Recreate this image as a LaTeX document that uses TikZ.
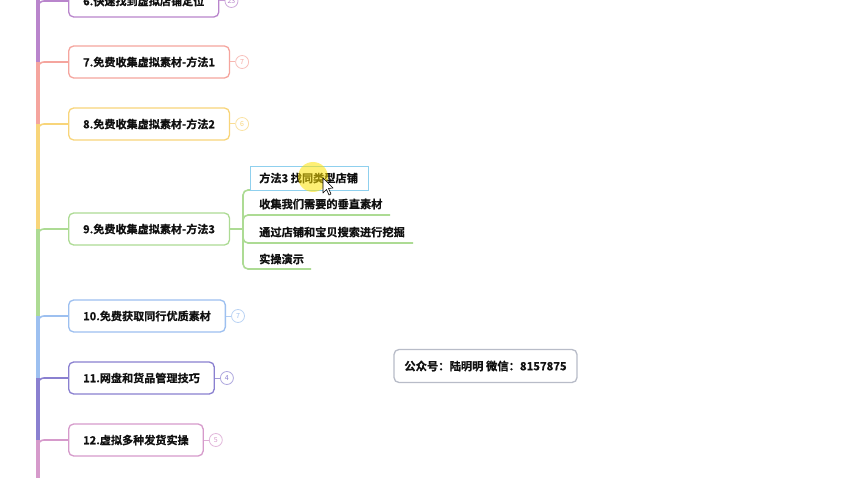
\documentclass[tikz,border=0pt]{standalone}
\usepackage{fontspec}
\usetikzlibrary{calc}
\setmainfont{Noto Sans CJK SC Bold}
\newfontfamily\cjkb[FakeBold=0.5]{Noto Sans CJK SC Bold}
\newfontfamily\cjkr{Noto Sans CJK SC}
\definecolor{cPurple}{HTML}{B985CC}
\definecolor{cSalmon}{HTML}{F5A59E}
\definecolor{cYellow}{HTML}{F8D57A}
\definecolor{cGreen}{HTML}{ADDB94}
\definecolor{cBlue}{HTML}{9DC0F0}
\definecolor{cIndigo}{HTML}{8A80D0}
\definecolor{cPink}{HTML}{D69ACB}
\definecolor{cSky}{HTML}{8FD0EE}
\definecolor{cGray}{HTML}{B8BCC8}
\definecolor{cText}{HTML}{111111}
\tikzset{
  topic/.style={draw=#1, line width=1.3pt, rounded corners=5pt, fill=white,
    anchor=west, minimum height=32pt, inner xsep=14.5pt, inner ysep=0pt,
    font=\cjkb\fontsize{11.1}{13}\selectfont, text=cText},
  trunk/.style={draw=#1, line width=4pt},
  branch/.style={draw=#1, line width=1.6pt, rounded corners=6pt},
  badge/.style={draw=#1!70, line width=0.8pt, circle, minimum size=13pt, inner sep=0pt,
    text=#1, font=\cjkr\fontsize{7}{8}\selectfont, fill=white},
  blink/.style={draw=#1!80, line width=1pt},
  subtxt/.style={anchor=west, inner sep=0pt, font=\cjkb\fontsize{11.2}{13}\selectfont, text=cText},
  subline/.style={draw=cGreen, line width=1.6pt, rounded corners=5pt},
}
\begin{document}
\begin{tikzpicture}[x=1pt, y=-1pt]
\useasboundingbox[fill=white] (0,0) rectangle (850,478);

% trunk segments
\coordinate (t0) at (38,-20);
\coordinate (t6) at (38,1);
\coordinate (t7) at (38,62);
\coordinate (t8) at (38,124);
\coordinate (t9) at (38,229);
\coordinate (t10) at (38,316);
\coordinate (t11) at (38,378);
\coordinate (t12) at (38,440);
\coordinate (tend) at (38,490);
\draw[trunk=cPurple] (t0) -- (t7);
\draw[trunk=cSalmon] (t7) -- (t8);
\draw[trunk=cYellow] (t8) -- (t9);
\draw[trunk=cGreen] (t9) -- (t10);
\draw[trunk=cBlue] (t10) -- (t11);
\draw[trunk=cIndigo] (t11) -- (t12);
\draw[trunk=cPink] (t12) -- (tend);

% topics
\node[topic=cPurple] (b6) at (68,1) {6.快速找到虚拟店铺定位};
\node[topic=cSalmon] (b7) at (68,62) {7.免费收集虚拟素材-方法1};
\node[topic=cYellow] (b8) at (68,124) {8.免费收集虚拟素材-方法2};
\node[topic=cGreen] (b9) at (68,229) {9.免费收集虚拟素材-方法3};
\node[topic=cBlue] (b10) at (68,316) {10.免费获取同行优质素材};
\node[topic=cIndigo] (b11) at (68,378) {11.网盘和货品管理技巧};
\node[topic=cPink] (b12) at (68,440) {12.虚拟多种发货实操};

% branches
\draw[branch=cPurple] (b6.west) -| ($(t6)+(0,14)$);
\draw[branch=cSalmon] (b7.west) -| ($(t7)+(0,14)$);
\draw[branch=cYellow] (b8.west) -| ($(t8)+(0,14)$);
\draw[branch=cGreen] (b9.west) -| ($(t9)+(0,14)$);
\draw[branch=cBlue] (b10.west) -| ($(t10)+(0,14)$);
\draw[branch=cIndigo] (b11.west) -| ($(t11)+(0,14)$);
\draw[branch=cPink] (b12.west) -| ($(t12)+(0,14)$);

% badges
\node[badge=cPurple] (n6) at ($(b6.east)+(12,0)$) {23};
\node[badge=cSalmon] (n7) at ($(b7.east)+(12,0)$) {7};
\node[badge=cYellow] (n8) at ($(b8.east)+(12,0)$) {6};
\node[badge=cBlue] (n10) at ($(b10.east)+(12,0)$) {7};
\node[badge=cIndigo] (n11) at ($(b11.east)+(12,0)$) {4};
\node[badge=cPink] (n12) at ($(b12.east)+(12,0)$) {5};
\draw[blink=cPurple] (b6.east) -- (n6.west);
\draw[blink=cSalmon] (b7.east) -- (n7.west);
\draw[blink=cYellow] (b8.east) -- (n8.west);
\draw[blink=cBlue] (b10.east) -- (n10.west);
\draw[blink=cIndigo] (b11.east) -- (n11.west);
\draw[blink=cPink] (b12.east) -- (n12.west);

% subtopics of 9
\coordinate (j) at (243,229);
\draw[subline] (b9.east) -- (j);
\coordinate (e1) at (368,190);
\coordinate (e2) at (390,215);
\coordinate (e3) at (413,243);
\coordinate (e4) at (311,269);
\draw[subline] (j) |- (e1);
\draw[subline] (j) |- (e2);
\draw[subline] (j) |- (e3);
\draw[subline] (j) |- (e4);
\node[draw=cSky, line width=1.2pt, fill=white, minimum width=118pt, minimum height=24pt,
  inner sep=0pt, anchor=north west] (s1box) at (250,166) {};
\node[subtxt] (s1) at (259,178) {方法3 找同类型店铺};
\node[subtxt] (s2) at (259,204) {收集我们需要的垂直素材};
\node[subtxt] (s3) at (259,232) {通过店铺和宝贝搜索进行挖掘};
\node[subtxt] (s4) at (259,259) {实操演示};

% cursor highlight
\fill[yellow!85!orange, opacity=0.55] (313,177) circle (15pt);
\draw[fill=white, line width=0.6pt, line join=round]
  (323,178) -- (323,193) -- (326.5,189.5) -- (329,195) -- (331,194) -- (328.5,188.5) -- (333,188) -- cycle;

% info box
\node[draw=cGray, line width=1.3pt, rounded corners=5pt, fill=white,
  minimum width=183pt, minimum height=33pt, inner sep=0pt,
  font=\cjkb\fontsize{11.3}{13}\selectfont, text=cText] (info) at (485.5,366)
  {公众号：陆明明 微信：8157875};
\end{tikzpicture}
\end{document}
